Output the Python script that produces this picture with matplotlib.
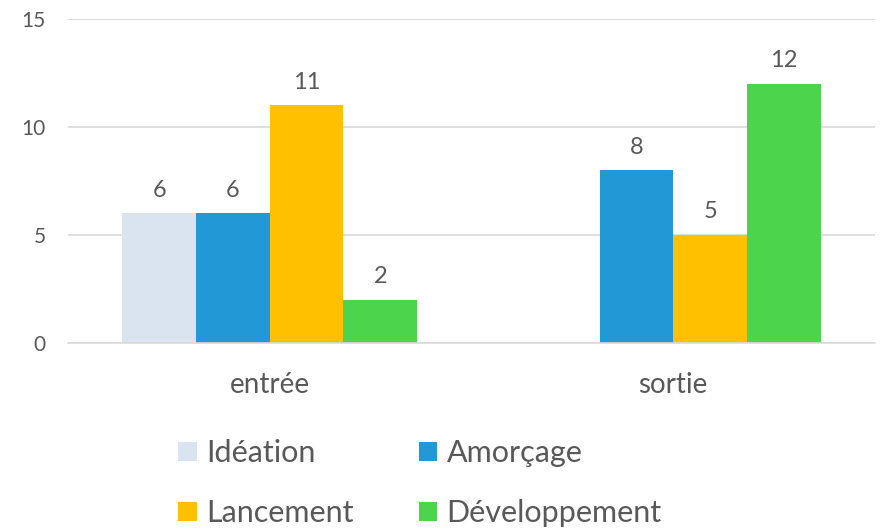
import matplotlib
matplotlib.use("Agg")
import matplotlib.pyplot as plt
import numpy as np

# data
categories = ["entrée", "sortie"]
series_names = ["Idéation", "Amorçage", "Lancement", "Développement"]
ideation = [6, 0]
amorcage = [6, 8]
lancement = [11, 5]
developpement = [2, 12]
colors = ["#dae3f0", "#2398d6", "#ffc000", "#4cd44c"]
yticks = [0, 5, 10, 15]

plt.rcParams["font.family"] = ["Lato", "DejaVu Sans"]
text_color = "#595959"

fig = plt.figure(figsize=(8.84, 5.28), dpi=100)
ax = fig.add_axes([68 / 884, (528 - 343) / 528, (875 - 68) / 884, (343 - 19) / 528])

x = np.arange(len(categories))
n = len(series_names)
group_w = 0.73
bar_w = group_w / n
all_values = [ideation, amorcage, lancement, developpement]

handles = []
for i, (name, vals, col) in enumerate(zip(series_names, all_values, colors)):
    pos = x - group_w / 2 + bar_w * (i + 0.5)
    bars = ax.bar(pos, vals, width=bar_w, color=col, label=name, zorder=2)
    handles.append(bars)
    for b, v in zip(bars, vals):
        if v == 0:
            continue
        ax.annotate(str(v), (b.get_x() + b.get_width() / 2, v),
                    xytext=(0, 9), textcoords="offset points",
                    ha="center", va="bottom", fontsize=17, color=text_color)

ax.set_xlim(-0.5, 1.5)
ax.set_ylim(0, 15)
ax.set_yticks(yticks)
ax.set_xticks(x)
ax.set_xticklabels(categories)
ax.grid(axis="y", color="#d9d9d9", linewidth=1.2, zorder=0)
ax.set_axisbelow(True)
for s in ["top", "right", "left"]:
    ax.spines[s].set_visible(False)
ax.spines["bottom"].set_color("#d9d9d9")
ax.spines["bottom"].set_linewidth(1.2)
ax.tick_params(axis="y", length=0, pad=16, labelsize=15, labelcolor=text_color)
ax.tick_params(axis="x", length=0, pad=21, labelsize=20, labelcolor=text_color)

# legend is filled row by row in the reference
order = [0, 2, 1, 3]
fig.legend([handles[k] for k in order], [series_names[k] for k in order],
           loc="upper left", bbox_to_anchor=(163 / 884, 1 - 424 / 528), ncol=2,
           frameon=False, fontsize=22, labelcolor=text_color,
           handlelength=0.6, handleheight=0.6, handletextpad=0.3,
           columnspacing=2.15, labelspacing=1.05, borderpad=0)

fig.savefig("out.png", dpi=100)
